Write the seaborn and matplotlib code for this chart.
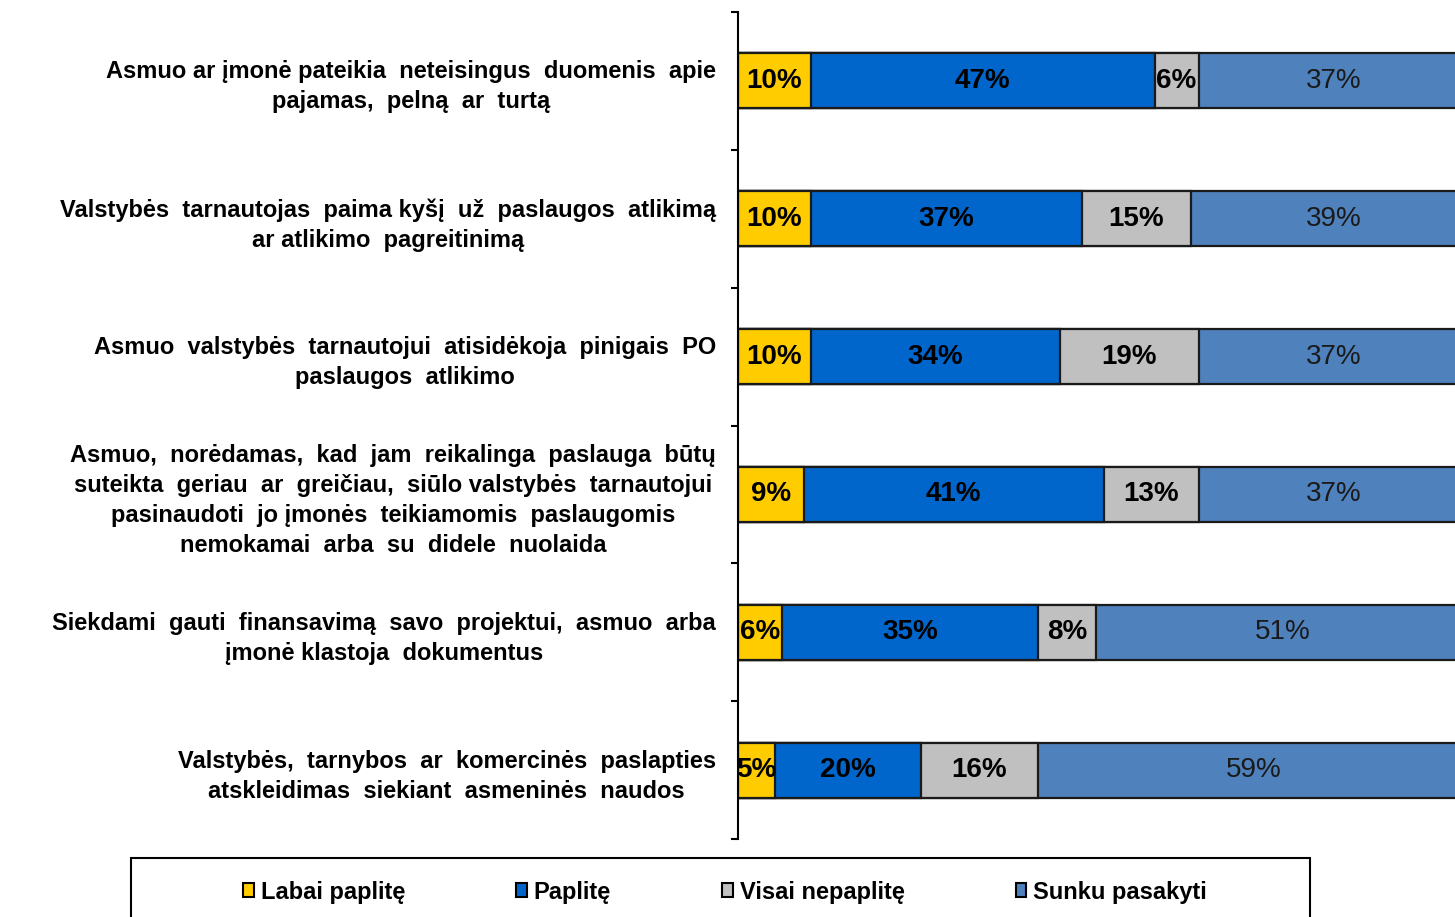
import seaborn as sns
import pandas as pd
import matplotlib.pyplot as plt
from matplotlib.patches import Patch, Rectangle

categories = [
    "Asmuo ar įmonė pateikia  neteisingus  duomenis  apie\npajamas,  pelną  ar  turtą",
    "Valstybės  tarnautojas  paima kyšį  už  paslaugos  atlikimą\nar atlikimo  pagreitinimą",
    "Asmuo  valstybės  tarnautojui  atisidėkoja  pinigais  PO\npaslaugos  atlikimo",
    "Asmuo,  norėdamas,  kad  jam  reikalinga  paslauga  būtų\nsuteikta  geriau  ar  greičiau,  siūlo valstybės  tarnautojui\npasinaudoti  jo įmonės  teikiamomis  paslaugomis\nnemokamai  arba  su  didele  nuolaida",
    "Siekdami  gauti  finansavimą  savo  projektui,  asmuo  arba\nįmonė klastoja  dokumentus",
    "Valstybės,  tarnybos  ar  komercinės  paslapties\natskleidimas  siekiant  asmeninės  naudos",
]
series = ["Labai paplitę", "Paplitę", "Visai nepaplitę", "Sunku pasakyti"]
labai = [10, 10, 10, 9, 6, 5]
paplite = [47, 37, 34, 41, 35, 20]
nepaplite = [6, 15, 19, 13, 8, 16]
sunku = [37, 39, 37, 37, 51, 59]
colors = ["#FFCC00", "#0066CC", "#C0C0C0", "#4F81BD"]

plt.rcParams["font.family"] = ["Liberation Sans", "DejaVu Sans"]

df = pd.DataFrame({"cat": categories, "a": labai, "b": paplite, "c": nepaplite, "d": sunku})
cols = ["a", "b", "c", "d"]
cum = df[cols].cumsum(axis=1)

fig = plt.figure(figsize=(14.55, 9.17), dpi=100)
ax = fig.add_axes([738 / 1455, 1 - 839 / 917, 731 / 1455, 827 / 917])

# stacked bars: draw cumulative totals from the longest down
for i in range(3, -1, -1):
    sns.barplot(x=cum[cols[i]], y=df["cat"], orient="h", color=colors[i], width=0.4,
                edgecolor="#1a1a1a", linewidth=1.6, saturation=1, ax=ax)

for i, col in enumerate(cols):
    starts = cum[col] - df[col]
    for j, v in enumerate(df[col]):
        x = starts[j] + v / 2
        if i < 3:
            ax.text(x, j, f"{v}%", ha="center", va="center", fontsize=20,
                    fontweight="bold", color="black")
        else:
            ax.text(x, j, f"{v}%", ha="center", va="center", fontsize=20,
                    color="#1a1a1a")

ax.set_xlim(0, 100)
ax.set_ylim(5.5, -0.5)
ax.set_xlabel("")
ax.set_ylabel("")
ax.set_xticks([])
for s in ["top", "right", "bottom"]:
    ax.spines[s].set_visible(False)
ax.spines["left"].set_linewidth(1.5)
ax.spines["left"].set_color("black")
ax.set_yticks(range(6))
ax.set_yticklabels(categories, fontsize=17, fontweight="bold", multialignment="center",
                   linespacing=1.39)
ax.set_yticks([k - 0.5 for k in range(7)], minor=True)
ax.tick_params(axis="y", which="major", length=0, pad=16)
ax.tick_params(axis="y", which="minor", length=5, width=1.5, direction="out")

handles = [Patch(facecolor=c, edgecolor="black", linewidth=1.5) for c in colors]
fig.legend(handles, series, loc="center", bbox_to_anchor=(725 / 1455, 1 - 892 / 917),
           ncol=4, frameon=False, handlelength=0.45, handleheight=0.55, handletextpad=0.3,
           columnspacing=4.7, prop={"weight": "bold", "size": 17})
fig.patches.append(Rectangle((131 / 1455, -0.05), 1179 / 1455, 0.05 + 59 / 917,
                             transform=fig.transFigure, fill=False, edgecolor="black",
                             linewidth=1.5))

fig.savefig("out.png", dpi=100)
